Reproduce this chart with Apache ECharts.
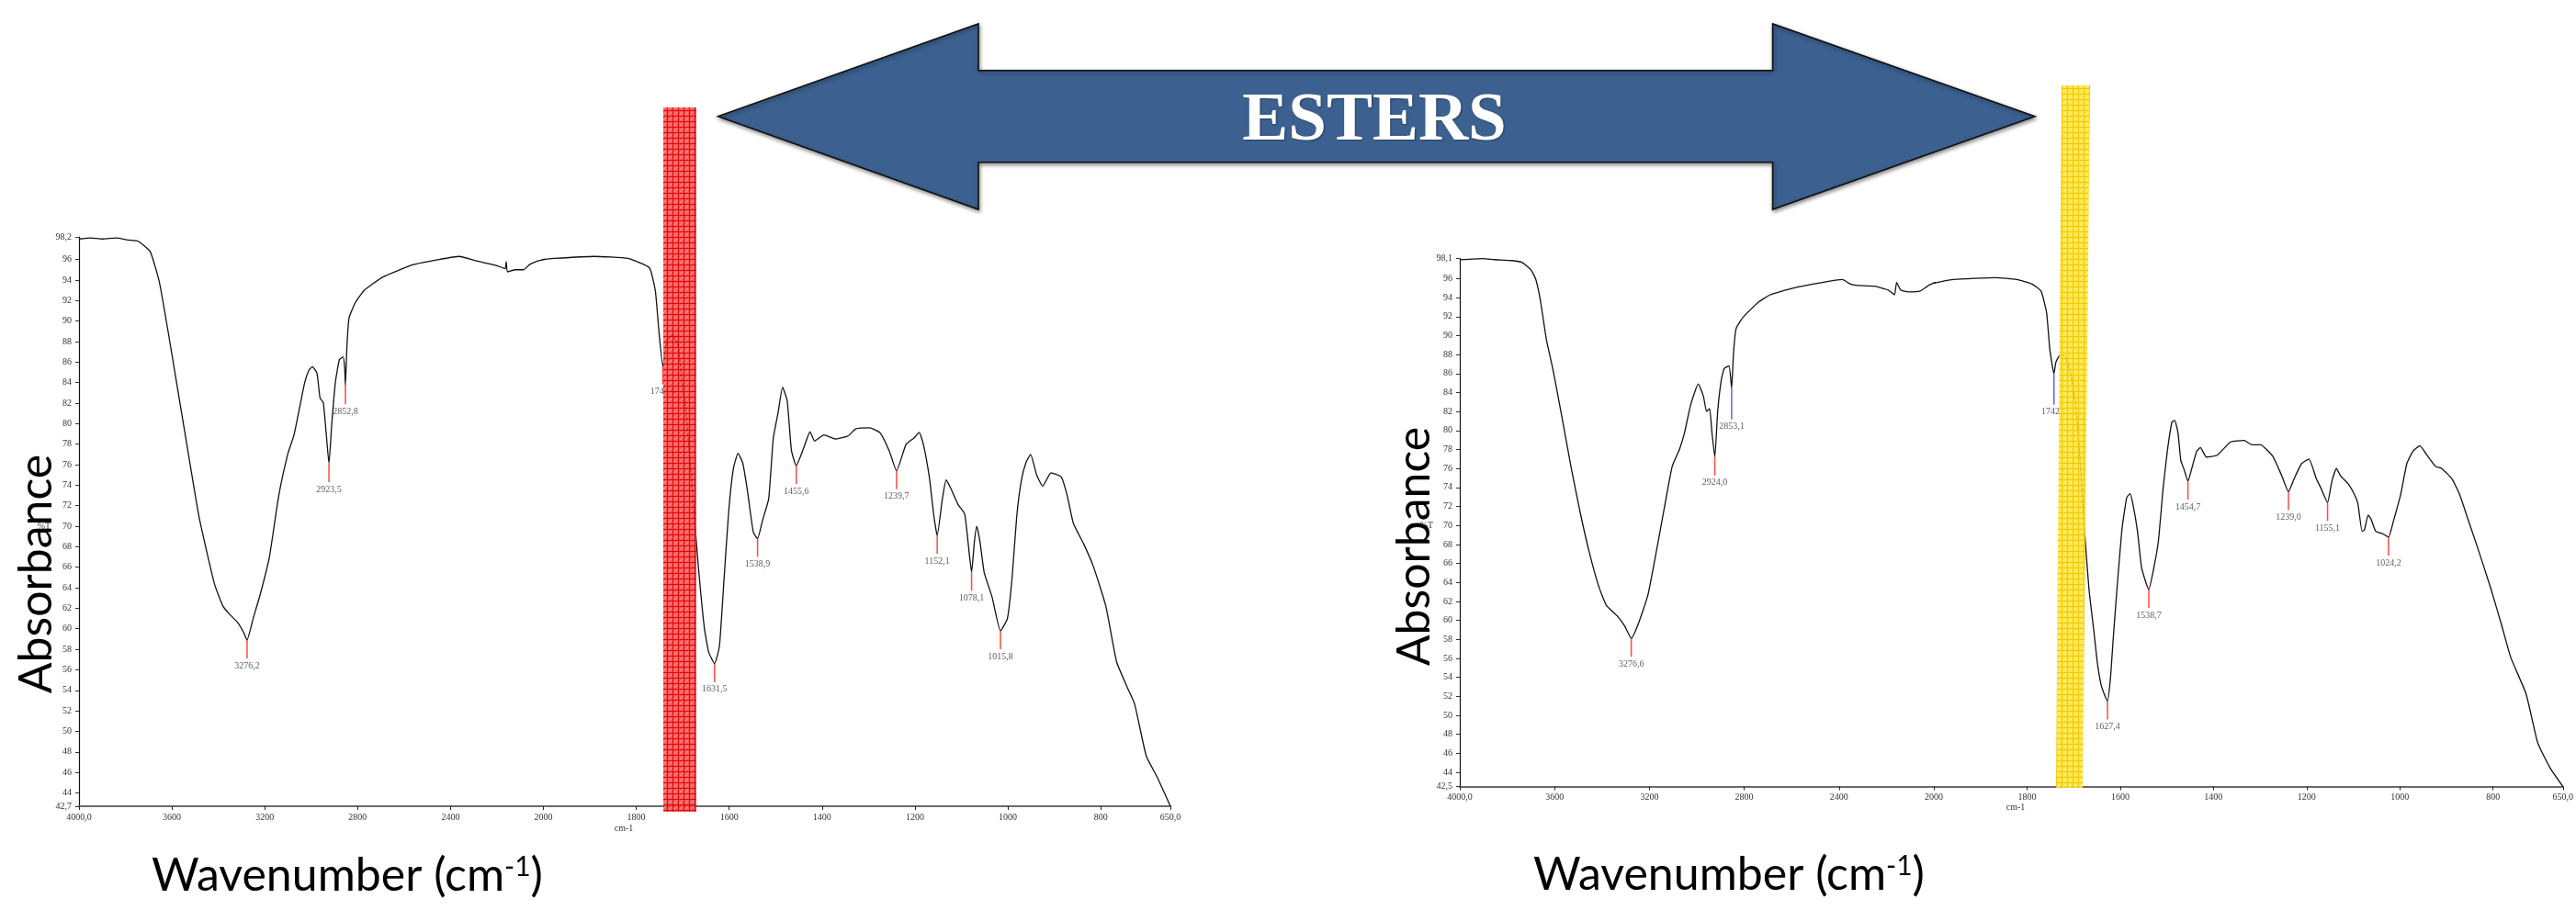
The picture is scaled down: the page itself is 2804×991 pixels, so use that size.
<!DOCTYPE html>
<html>
<head>
<meta charset="utf-8">
<script src="https://cdn.jsdelivr.net/npm/echarts@6/dist/echarts.min.js"></script>
<style>
html,body{margin:0;padding:0;background:#fff;}
#chart{width:2804px;height:991px;}
</style>
</head>
<body>
<div id="chart"></div>
<script>
// ---------- DATA ----------
// Left spectrum: wavenumber (cm-1) and %T
const leftWave = [4000,3950,3900,3839,3790,3747,3694,3654,3615,3549,3483,3417,3380,3351,3316,3290,3276.2,3250,3219,3180,3140,3100,3074,3047,3028,3010,2995,2975,2962,2948,2936,2923.5,2912,2896,2879,2863,2856,2852.8,2846,2837,2810,2771,2691,2560,2450,2362,2296,2200,2165,2160,2155,2120,2085,2060,2032,2000,1977,1891,1818,1772,1759,1752,1742.9,1733,1721,1710,1700,1693,1680,1667,1653.5,1644,1631.5,1621,1611,1601,1591,1581,1571,1561,1548,1538.9,1528,1515,1505,1495,1485,1475,1466,1455.6,1439,1426,1416,1396,1370,1344,1327,1298,1275,1255,1239.7,1219,1202,1191,1182,1169,1159,1152.1,1141,1133,1123,1107,1093,1083,1078.1,1072,1067,1060,1051,1034,1015.8,1001,991,981,971,961,951,938,925,907,885,872,859,836,816,789,766,743,727,702,678,650];
const leftT    = [98.0,98.1,98.0,98.1,97.9,97.8,96.8,93.8,88.8,79.8,70.9,64.4,62.2,61.4,60.6,59.6,58.9,61.0,63.4,67.0,72.95,77.1,78.9,81.9,84.0,85.2,85.55,84.9,82.5,82.05,79.2,76.1,79.8,84.0,86.2,86.5,85.5,83.7,87.6,90.3,91.8,93.0,94.3,95.5,96.0,96.3,95.9,95.4,95.1,95.8,94.8,95.0,95.0,95.5,95.8,96.0,96.1,96.3,96.1,95.2,92.95,89.4,85.6,88.2,88.6,87.6,83.4,81.3,73.85,66.4,60.1,57.7,56.6,58.3,64.9,71.45,75.6,77.1,76.2,73.55,69.4,68.8,70.6,72.65,78.6,81.0,83.55,82.2,77.4,75.9,77.7,79.2,78.3,78.9,78.5,78.8,79.5,79.6,79.1,77.3,75.4,78.0,78.6,79.15,78.0,74.75,70.9,69.1,72.65,74.5,73.7,72.1,71.2,67.3,65.5,68.5,70.0,68.5,65.5,63.1,59.8,61.0,64.9,70.9,74.45,76.2,77.0,75.0,73.9,75.2,74.8,72.95,70.3,68.2,66.1,62.2,56.8,54.3,52.65,47.6,45.5,42.7];
const leftPeakWave = [3276.2,2923.5,2852.8,1742.9,1631.5,1538.9,1455.6,1239.7,1152.1,1078.1,1015.8];
const leftPeakT    = [58.9,76.1,83.7,85.6,56.6,68.8,75.9,75.4,69.1,65.5,59.8];
const leftPeakBlue = [];

// Right spectrum
const rightWave = [4000,3900,3854,3780,3737,3699,3679,3660,3634,3608,3569,3531,3492,3453,3414,3382,3337,3304,3276.6,3246,3207,3169,3136,3104,3072,3052,3026,2994,2972,2959,2946,2936,2924,2912,2897,2884,2864,2853.1,2845,2834,2806,2741,2690,2599,2470,2386,2354,2328,2251,2192,2166,2157,2140,2108,2057,2018,1958,1867,1822,1790,1770,1758,1751,1742.2,1738,1730,1720,1706,1696,1686,1677,1667,1657,1649,1641,1634,1627.4,1621,1615,1607,1596,1586,1579,1573,1563,1554,1538.7,1528,1518,1508,1499,1489,1483,1476,1470,1463,1454.7,1447,1436,1428,1415,1392,1363,1334,1318,1299,1273,1253,1239,1227,1211,1195,1179,1169,1155.1,1146,1136,1127,1111,1098,1090,1081,1076,1068,1062,1052,1036,1024.2,1014,998,985,972,957,943,923,910,888,872,852,836,804,781,762,729,704,678,650];
const rightT    = [97.98,98.1,98.0,97.9,97.7,96.9,95.9,93.7,89.5,86.55,81.4,76.2,71.35,67.1,63.6,61.6,60.5,59.4,58.1,59.7,62.6,67.5,72.0,76.2,78.1,79.75,82.7,84.9,83.6,82.0,82.3,79.75,77.2,82.0,85.3,86.55,86.8,84.45,88.2,90.75,91.9,93.5,94.3,94.97,95.6,95.9,95.45,95.3,95.2,94.8,94.3,95.6,94.8,94.6,94.7,95.35,95.9,96.1,95.9,95.45,94.7,92.4,88.5,86.0,87.2,87.9,87.9,85.9,82.7,76.85,69.7,63.25,59.05,55.5,53.2,52.2,51.5,53.9,58.1,63.3,69.7,72.95,73.35,72.3,69.4,65.5,63.25,65.5,68.4,73.9,77.8,80.9,81.05,79.75,76.85,75.9,74.65,75.9,77.8,78.2,77.2,77.4,78.8,78.95,78.5,78.5,77.3,75.2,73.55,74.9,76.5,77.0,74.9,73.9,72.4,74.6,76.0,75.2,74.4,73.3,72.3,69.4,69.5,71.1,70.7,69.4,69.1,68.75,70.4,73.3,76.5,77.8,78.4,77.5,76.2,76.0,74.9,73.3,70.4,68.1,63.25,59.4,56.1,52.25,47.1,44.5,42.5];
const rightPeakWave = [3276.6,2924.0,2853.1,1742.2,1627.4,1538.7,1454.7,1239.0,1155.1,1024.2];
const rightPeakT    = [58.1,77.2,84.45,86.0,51.5,63.25,74.65,73.55,72.4,68.75];
const rightPeakBlue = [2853.1,1742.2];

// Tick labels
const xTicksHigh = [4000,3600,3200,2800,2400,2000];
const xTicksLow  = [1800,1600,1400,1200,1000,800,650];
const leftYTicks  = [42.7,44,46,48,50,52,54,56,58,60,62,64,66,68,70,72,74,76,78,80,82,84,86,88,90,92,94,96,98.2];
const rightYTicks = [42.5,44,46,48,50,52,54,56,58,60,62,64,66,68,70,72,74,76,78,80,82,84,86,88,90,92,94,96,98.1];

// ---------- CHART ----------
const chart = echarts.init(document.getElementById('chart'), null, {renderer:'canvas'});
const SERIF = 'Liberation Serif';
const comma = v => (Number.isInteger(v) ? String(v) : v.toFixed(1).replace('.', ','));
const xFmt = v => (v === 4000 || v === 650) ? v.toFixed(1).replace('.', ',') : String(v);

const panels = [
  {x0:86,  xMid:591.5, x1:1274, top:258,   bottom:878,   ymin:42.7, ymax:98.2, yTicks:leftYTicks,
   wave:leftWave, t:leftT, pw:leftPeakWave, pt:leftPeakT, blue:leftPeakBlue},
  {x0:1589, xMid:2105, x1:2800, top:281.7, bottom:856.5, ymin:42.5, ymax:98.1, yTicks:rightYTicks,
   wave:rightWave, t:rightT, pw:rightPeakWave, pt:rightPeakT, blue:rightPeakBlue}
];

const grid = [], xAxis = [], yAxis = [], series = [];
panels.forEach((p) => {
  const data = p.wave.map((w, i) => [w, p.t[i]]);
  const parts = [
    {left:p.x0, width:p.xMid - p.x0, min:2000, max:4000, ticks:xTicksHigh, showY:true},
    {left:p.xMid, width:p.x1 - p.xMid, min:650, max:2000, ticks:xTicksLow, showY:false}
  ];
  parts.forEach(part => {
    const gi = grid.length;
    grid.push({left:part.left, width:part.width, top:p.top, height:p.bottom - p.top, containLabel:false});
    xAxis.push({
      type:'value', gridIndex:gi, min:part.min, max:part.max, inverse:true,
      splitLine:{show:false},
      axisLine:{show:true, onZero:false, lineStyle:{color:'#6a6a6a', width:2}},
      axisTick:{show:true, length:4, inside:false, customValues:part.ticks, lineStyle:{color:'#222', width:1}},
      axisLabel:{show:true, customValues:part.ticks, formatter:xFmt, margin:7,
        fontFamily:SERIF, fontSize:10, color:'#333'}
    });
    yAxis.push({
      type:'value', gridIndex:gi, min:p.ymin, max:p.ymax, show:part.showY,
      splitLine:{show:false},
      axisLine:{show:true, onZero:false, lineStyle:{color:'#111', width:1.2}},
      axisTick:{show:true, length:4, customValues:p.yTicks, lineStyle:{color:'#333'}},
      axisLabel:{show:true, customValues:p.yTicks, formatter:comma, margin:8,
        fontFamily:SERIF, fontSize:10, color:'#333'}
    });
    series.push({
      type:'line', xAxisIndex:gi, yAxisIndex:gi, data:data, showSymbol:false, smooth:0.15,
      clip:true, silent:true, z:2, animation:false,
      lineStyle:{color:'#111', width:1.3}
    });
    const peaks = [];
    p.pw.forEach((w, i) => {
      if (w <= part.max && w >= part.min) {
        const isBlue = p.blue.indexOf(w) >= 0;
        const len = isBlue ? 34 : 20;
        peaks.push({
          value:[w, p.pt[i]],
          symbolSize:[1.5, len], symbolOffset:[0, len / 2],
          itemStyle:{color: isBlue ? '#3a3aff' : '#ff1a1a'}
        });
      }
    });
    series.push({
      type:'scatter', xAxisIndex:gi, yAxisIndex:gi, data:peaks, symbol:'rect',
      silent:true, z:3, animation:false,
      label:{show:true, position:'bottom', distance:3, fontFamily:SERIF, fontSize:10, color:'#333',
        formatter: prm => prm.value[0].toFixed(1).replace('.', ',')}
    });
  });
});

// hatch patterns for the highlight bars
function makePattern(base, line, dot) {
  const c = document.createElement('canvas');
  c.width = 6; c.height = 6;
  const g = c.getContext('2d');
  g.fillStyle = base; g.fillRect(0, 0, 6, 6);
  g.fillStyle = line; g.fillRect(0, 0, 1, 6); g.fillRect(0, 0, 6, 1);
  g.fillStyle = dot; g.fillRect(3, 3, 1, 1); g.fillRect(2, 4, 1, 1); g.fillRect(4, 2, 1, 1);
  return {image:c, repeat:'repeat'};
}
const redPat = makePattern('rgba(255,55,55,0.82)', 'rgba(215,0,0,0.85)', 'rgba(255,170,170,0.9)');
const yelPat = makePattern('rgba(255,225,40,0.85)', 'rgba(240,200,0,0.9)', 'rgba(255,245,170,0.9)');

const bigFont = 'Lato';
const graphic = [
  // double-headed arrow
  {type:'polygon', z:10,
   shape:{points:[[781.6,126.7],[1065,26],[1065,76.7],[1929.6,76.7],[1929.6,26],[2215,126.7],[1929.6,228],[1929.6,176.7],[1065,176.7],[1065,228]]},
   style:{fill:'#3c6190', stroke:'#111', lineWidth:1.6, shadowBlur:4, shadowColor:'rgba(0,0,0,0.45)', shadowOffsetX:1, shadowOffsetY:2}},
  {type:'text', z:11, x:1496, y:133,
   style:{text:'ESTERS', font:'bold 75px "Liberation Serif"', fill:'#fff', align:'center', verticalAlign:'middle',
     textShadowColor:'rgba(0,0,0,0.35)', textShadowBlur:2, textShadowOffsetX:1, textShadowOffsetY:1}},
  // highlight bars
  {type:'rect', z:20, shape:{x:722, y:117, width:36, height:767}, style:{fill:redPat}},
  {type:'polygon', z:20, shape:{points:[[2244,93],[2275,93],[2267,858],[2238,858]]}, style:{fill:yelPat}},
  // axis titles
  {type:'text', z:5, x:378, y:954,
   style:{text:'Wavenumber (cm{s|-1})', fontFamily:bigFont, fontSize:50, fill:'#000', align:'center', verticalAlign:'middle',
     rich:{s:{fontFamily:bigFont, fontSize:30, verticalAlign:'top', fill:'#000'}}}},
  {type:'text', z:5, x:1882, y:953,
   style:{text:'Wavenumber (cm{s|-1})', fontFamily:bigFont, fontSize:50, fill:'#000', align:'center', verticalAlign:'middle',
     rich:{s:{fontFamily:bigFont, fontSize:30, verticalAlign:'top', fill:'#000'}}}},
  {type:'text', z:5, x:40, y:625, rotation:Math.PI / 2,
   style:{text:'Absorbance', fontFamily:bigFont, fontSize:50, fill:'#000', align:'center', verticalAlign:'middle'}},
  {type:'text', z:5, x:1540, y:595, rotation:Math.PI / 2,
   style:{text:'Absorbance', fontFamily:bigFont, fontSize:50, fill:'#000', align:'center', verticalAlign:'middle'}},
  // small instrument labels
  {type:'text', z:4, x:48, y:573, style:{text:'%T', fontFamily:SERIF, fontSize:10, fill:'#444', align:'center', verticalAlign:'middle'}},
  {type:'text', z:4, x:1553, y:572, style:{text:'%T', fontFamily:SERIF, fontSize:10, fill:'#444', align:'center', verticalAlign:'middle'}},
  {type:'text', z:4, x:679, y:902, style:{text:'cm-1', fontFamily:SERIF, fontSize:10, fill:'#333', align:'center', verticalAlign:'middle'}},
  {type:'text', z:4, x:2194, y:879, style:{text:'cm-1', fontFamily:SERIF, fontSize:10, fill:'#333', align:'center', verticalAlign:'middle'}}
];

chart.setOption({
  animation:false,
  backgroundColor:'#ffffff',
  grid, xAxis, yAxis, series, graphic
});
</script>
</body>
</html>
